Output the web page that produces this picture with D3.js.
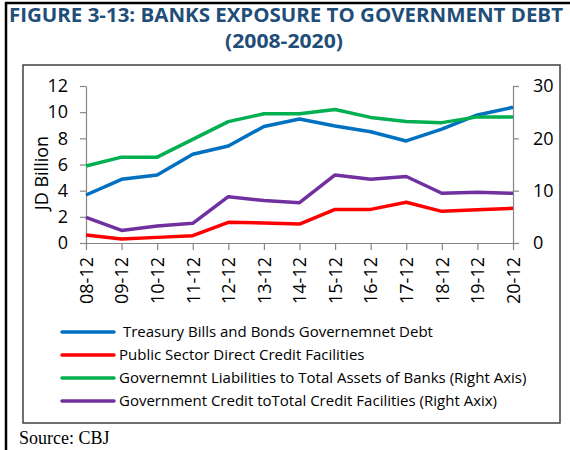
<!DOCTYPE html>
<html>
<head>
<meta charset="utf-8">
<script src="https://cdn.jsdelivr.net/npm/d3@7"></script>
<style>
  body { margin: 0; background: #fff; }
  svg { display: block; }
</style>
</head>
<body>
<div id="chart"></div>
<script>
const periods = ["08-12","09-12","10-12","11-12","12-12","13-12","14-12","15-12","16-12","17-12","18-12","19-12","20-12"];
const treasury = [3.67, 4.87, 5.2, 6.78, 7.42, 8.9, 9.48, 8.94, 8.5, 7.8, 8.7, 9.79, 10.37];
const publicSector = [0.61, 0.31, 0.43, 0.56, 1.58, 1.53, 1.45, 2.57, 2.57, 3.11, 2.42, 2.55, 2.65];
const govLiabilities = [14.7, 16.4, 16.4, 19.8, 23.2, 24.7, 24.7, 25.5, 24.0, 23.2, 23.0, 24.1, 24.1];
const govCredit = [4.9, 2.4, 3.25, 3.76, 8.85, 8.1, 7.7, 13.0, 12.2, 12.7, 9.5, 9.7, 9.5];
const leftTicks = [0, 2, 4, 6, 8, 10, 12];
const rightTicks = [0, 10, 20, 30];

const series = [
  {name: " Treasury Bills and Bonds Governemnet Debt", values: treasury, axis: "left", color: "#0070c0"},
  {name: "Public Sector Direct Credit Facilities", values: publicSector, axis: "left", color: "#ff0000"},
  {name: "Governemnt Liabilities to Total Assets of Banks (Right Axis)", values: govLiabilities, axis: "right", color: "#00b050"},
  {name: "Government Credit toTotal Credit Facilities (Right Axix)", values: govCredit, axis: "right", color: "#7030a0"}
];

const width = 570, height = 450;
const font = "'Open Sans', Lato, sans-serif";
const svg = d3.select("#chart").append("svg")
    .attr("width", width).attr("height", height);

// outer frame
svg.append("line").attr("x1", 5).attr("x2", 570).attr("y1", 3).attr("y2", 3)
    .attr("stroke", "#000").attr("stroke-width", 2.5);
svg.append("line").attr("x1", 6).attr("x2", 6).attr("y1", 2).attr("y2", 450)
    .attr("stroke", "#000").attr("stroke-width", 2.5);

// title
const title = svg.append("text")
    .attr("text-anchor", "middle")
    .style("font-family", font).style("font-weight", "bold")
    .style("font-size", "19px").attr("fill", "#1f4e79");
title.append("tspan").attr("x", 286).attr("y", 22)
    .attr("textLength", 554).attr("lengthAdjust", "spacingAndGlyphs")
    .text("FIGURE 3-13: BANKS EXPOSURE TO GOVERNMENT DEBT");
title.append("tspan").attr("x", 284).attr("y", 48)
    .attr("textLength", 118).attr("lengthAdjust", "spacingAndGlyphs")
    .text("(2008-2020)");

// inner chart box
svg.append("rect").attr("x", 23).attr("y", 65).attr("width", 537).attr("height", 358)
    .attr("fill", "none").attr("stroke", "#404040").attr("stroke-width", 1.5);

const x = d3.scalePoint().domain(periods).range([86, 513]);
const yL = d3.scaleLinear().domain([0, 12]).range([243, 86]);
const yR = d3.scaleLinear().domain([0, 30]).range([243, 86]);

const axisColor = "#868686";
function styleAxis(g) {
  g.select(".domain").attr("stroke", axisColor).attr("stroke-width", 1.2);
  g.selectAll(".tick line").attr("stroke", axisColor).attr("stroke-width", 1.2);
  g.selectAll(".tick text").style("font-family", font).style("font-size", "18px").attr("fill", "#000");
}

svg.append("g").attr("transform", "translate(86,0)")
    .call(d3.axisLeft(yL).tickValues(leftTicks).tickSize(6).tickSizeOuter(0).tickPadding(12))
    .call(styleAxis);

svg.append("g").attr("transform", "translate(513,0)")
    .call(d3.axisRight(yR).tickValues(rightTicks).tickSize(6).tickSizeOuter(0).tickPadding(14))
    .call(styleAxis);

const xAxis = svg.append("g").attr("transform", "translate(0,243)")
    .call(d3.axisBottom(x).tickSize(7).tickSizeOuter(0).tickPadding(6))
    .call(styleAxis);
xAxis.selectAll(".tick text")
    .attr("transform", "rotate(-90)")
    .attr("text-anchor", "end")
    .attr("x", -14).attr("y", 0).attr("dy", "0.35em");

svg.append("text")
    .attr("transform", "translate(42,173) rotate(-90)")
    .attr("text-anchor", "middle").attr("dy", "0.35em")
    .style("font-family", font).style("font-size", "18px")
    .text("JD Billion");

const line = d3.line().x((d, i) => x(periods[i]));
series.forEach(s => {
  const yScale = s.axis === "left" ? yL : yR;
  svg.append("path")
      .datum(s.values)
      .attr("fill", "none")
      .attr("stroke", s.color)
      .attr("stroke-width", 3.5)
      .attr("stroke-linejoin", "round")
      .attr("d", line.y(d => yScale(d)));
});

// legend
const legend = svg.append("g");
series.forEach((s, i) => {
  const ly = 332 + i * 23;
  legend.append("line").attr("x1", 62).attr("x2", 114).attr("y1", ly).attr("y2", ly)
      .attr("stroke", s.color).attr("stroke-width", 3.5).attr("stroke-linecap", "round");
  legend.append("text").attr("x", 119).attr("y", ly).attr("dy", "0.35em")
      .style("font-family", font).style("font-size", "15px").attr("fill", "#000")
      .attr("xml:space", "preserve").style("white-space", "pre")
      .text(s.name);
});

svg.append("text").attr("x", 19).attr("y", 444)
    .style("font-family", "'Liberation Serif', 'Times New Roman', serif")
    .style("font-size", "18px").text("Source: CBJ");
</script>
</body>
</html>
